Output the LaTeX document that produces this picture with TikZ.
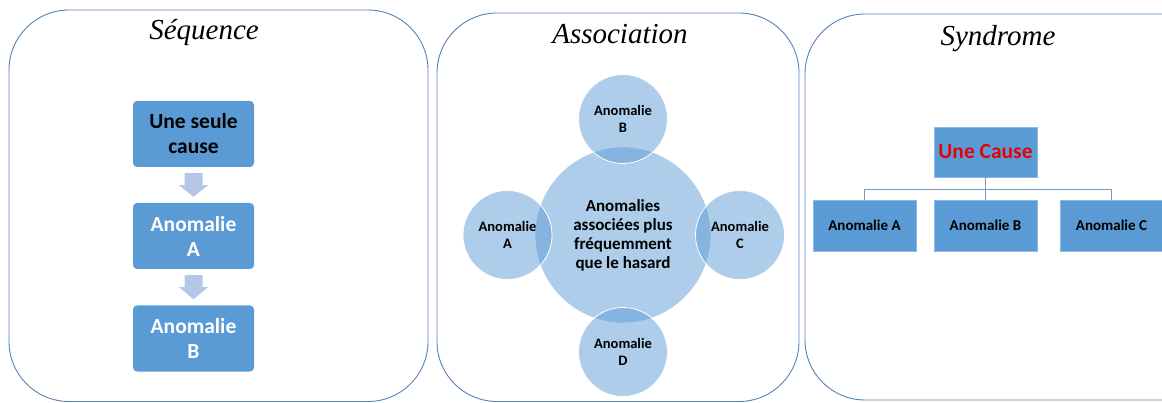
\documentclass[tikz,border=0pt]{standalone}
\usepackage{fontspec}
\setmainfont{Carlito}
\newfontfamily\titlefont{Liberation Serif}
\usetikzlibrary{calc}
\definecolor{boxblue}{HTML}{5B9BD5}
\definecolor{arrowblue}{HTML}{B4C7E7}
\definecolor{panelline}{RGB}{84,130,180}
\definecolor{connline}{RGB}{120,155,195}
\definecolor{causered}{HTML}{E8000B}
\definecolor{orgedge}{RGB}{140,185,230}
\tikzset{
  panel/.style={draw=panelline, line width=0.9pt, rounded corners=60pt},
  ptitle/.style={font=\titlefont\itshape\fontsize{29}{32}\selectfont, text=black},
  seqbox/.style={fill=boxblue, draw=none, rounded corners=4pt, minimum width=121pt, minimum height=66pt, align=center, inner sep=0pt, font=\bfseries\fontsize{21.5}{25}\selectfont},
  blockarrow/.style={fill=arrowblue, draw=none},
  bigcirc/.style={circle, fill=boxblue, fill opacity=0.5, text opacity=1, draw=white, line width=0.8pt, minimum size=176pt, inner sep=0pt, align=center, font=\bfseries\fontsize{17}{19}\selectfont},
  smallcirc/.style={circle, fill=boxblue, fill opacity=0.5, text opacity=1, draw=white, line width=0.8pt, minimum size=89pt, inner sep=0pt, align=center, font=\bfseries\fontsize{14.5}{16.5}\selectfont},
  orgbox/.style={fill=boxblue, draw=orgedge, line width=0.6pt, minimum width=103pt, minimum height=51pt, inner sep=0pt, align=center, font=\bfseries\fontsize{15}{17}\selectfont},
  conn/.style={draw=connline, line width=1.2pt}
}
\begin{document}
\begin{tikzpicture}[x=1pt, y=-1pt]
\useasboundingbox (0,0) rectangle (1162,403);
\clip (0,0) rectangle (1162,403);
% panels
\draw[panel] (9,10) rectangle (428,401.5);
\draw[panel] (437,13) rectangle (799,401.5);
\draw[panel] (805,14) rectangle (1222,400);
% titles
\node[ptitle] (t1) at (204,33) {Séquence};
\node[ptitle] (t2) at (620,34) {Association};
\node[ptitle] (t3) at (998,39) {Syndrome};
% sequence
\node[seqbox, text=black] (s1) at (193.5,134) {Une seule\\cause};
\node[seqbox, text=white] (s2) at (193.5,236) {Anomalie\\A};
\node[seqbox, text=white] (s3) at (193.5,338.5) {Anomalie\\B};
\foreach \a/\b in {s1/s2, s2/s3}{
  \fill[blockarrow] ($(\a.south)+(-9,6)$) -- ($(\a.south)+(9,6)$) -- ($(\a.south)+(9,18)$)
    -- ($(\a.south)+(14.5,18)$) -- ($(\b.north)+(0,-6)$) -- ($(\a.south)+(-14.5,18)$)
    -- ($(\a.south)+(-9,18)$) -- cycle;
}
% association
\node[bigcirc] (c0) at (623,235) {Anomalies\\associées plus\\fréquemment\\que le hasard};
\node[smallcirc] (cb) at (623,119) {Anomalie\\B};
\node[smallcirc] (cd) at (623,352) {Anomalie\\D};
\node[smallcirc] (ca) at (507.5,235) {Anomalie\\A};
\node[smallcirc] (cc) at (740,235) {Anomalie\\C};
% syndrome
\node[orgbox, minimum height=50pt, font=\bfseries\fontsize{21.5}{24}\selectfont, text=causered] (cause) at (985.5,152) {Une Cause};
\node[orgbox] (oa) at (864.5,225.5) {Anomalie A};
\node[orgbox] (ob) at (985.5,225.5) {Anomalie B};
\node[orgbox] (oc) at (1111.5,225.5) {Anomalie C};
\draw[conn] (cause.south) -- ++(0,12) coordinate (j);
\draw[conn] (j) -| (oa.north);
\draw[conn] (j) -| (oc.north);
\draw[conn] (j) -- (ob.north);
\end{tikzpicture}
\end{document}
